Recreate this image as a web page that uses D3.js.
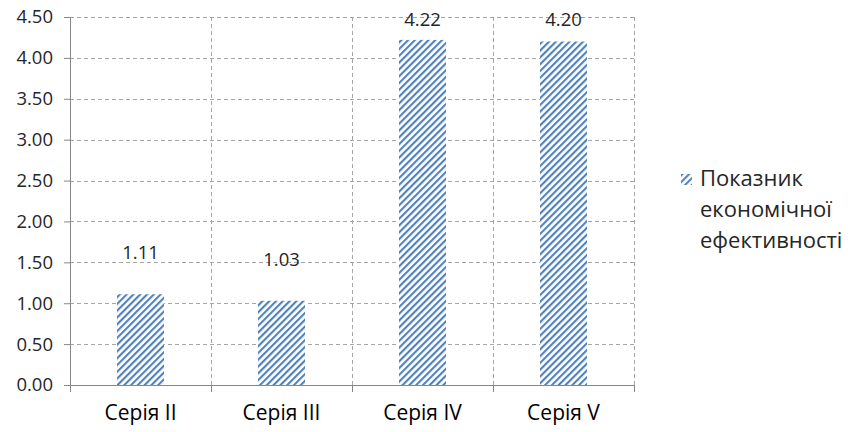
<!DOCTYPE html>
<html>
<head>
<meta charset="utf-8">
<script src="https://cdn.jsdelivr.net/npm/d3@7"></script>
<style>
  body { margin: 0; background: #fff; }
  svg { display: block; font-family: "Open Sans", "DejaVu Sans", sans-serif; }
</style>
</head>
<body>
<div id="chart"></div>
<script>
// дані з діаграми
const categories = ['Серія II', 'Серія III', 'Серія IV', 'Серія V'];
const values = [1.11, 1.03, 4.22, 4.20];
const yTicks = [0, 0.5, 1, 1.5, 2, 2.5, 3, 3.5, 4, 4.5];
const seriesName = ['Показник', 'економічної', 'ефективності'];

const width = 850, height = 432;
const margin = { top: 17, right: 216, bottom: 47, left: 70 };
const innerW = width - margin.left - margin.right;
const innerH = height - margin.top - margin.bottom;

const blue = '#4f81bd';
const grey = '#868686';

const svg = d3.select('#chart').append('svg')
  .attr('width', width)
  .attr('height', height);

// штрихування стовпців
const pat = svg.append('defs').append('pattern')
  .attr('id', 'hatch')
  .attr('patternUnits', 'userSpaceOnUse')
  .attr('width', 4.8)
  .attr('height', 4.8)
  .attr('patternTransform', 'rotate(45)');
pat.append('rect').attr('width', 4.8).attr('height', 4.8).attr('fill', '#fff');
pat.append('rect').attr('x', 0).attr('width', 2.1).attr('height', 4.8).attr('fill', blue);

const g = svg.append('g').attr('transform', `translate(${margin.left},${margin.top})`);

const x = d3.scaleBand().domain(categories).range([0, innerW]).paddingInner(0).paddingOuter(0);
const y = d3.scaleLinear().domain([0, 4.5]).range([innerH, 0]);

// горизонтальна сітка
g.append('g').selectAll('line')
  .data(yTicks.filter(d => d > 0))
  .join('line')
  .attr('x1', 0).attr('x2', innerW)
  .attr('y1', d => Math.round(y(d)) + 0.5).attr('y2', d => Math.round(y(d)) + 0.5)
  .attr('stroke', '#a6a6a6')
  .attr('stroke-dasharray', '4,3');

// вертикальна сітка
g.append('g').selectAll('line')
  .data(categories.slice(1).map(c => x(c)).concat([innerW]))
  .join('line')
  .attr('x1', d => Math.round(d) + 0.5).attr('x2', d => Math.round(d) + 0.5)
  .attr('y1', 0).attr('y2', innerH)
  .attr('stroke', '#a6a6a6')
  .attr('stroke-dasharray', '4,3');

// стовпці
const barW = x.bandwidth() / 3;
g.append('g').selectAll('rect')
  .data(values)
  .join('rect')
  .attr('x', (d, i) => x(categories[i]) + (x.bandwidth() - barW) / 2)
  .attr('y', d => y(d))
  .attr('width', barW)
  .attr('height', d => innerH - y(d))
  .attr('fill', 'url(#hatch)');

// підписи значень (не вище верхньої межі області)
g.append('g').selectAll('text')
  .data(values)
  .join('text')
  .attr('x', (d, i) => x(categories[i]) + x.bandwidth() / 2)
  .attr('y', d => Math.max(y(d) - 35, 9))
  .attr('text-anchor', 'middle')
  .attr('font-size', 18.5)
  .attr('fill', '#262626')
  .text(d => d.toFixed(2));

// вісь Y
const yAxis = g.append('g')
  .call(d3.axisLeft(y).tickValues(yTicks).tickFormat(d3.format('.2f')).tickSize(6).tickSizeOuter(0));
yAxis.select('.domain').attr('stroke', grey);
yAxis.selectAll('.tick line').attr('stroke', grey);
yAxis.selectAll('.tick text')
  .attr('x', -17)
  .attr('font-size', 18.5)
  .attr('fill', '#262626')
  .attr('font-family', '"Open Sans", sans-serif');

// вісь X
const xAxis = g.append('g').attr('transform', `translate(0,${innerH})`)
  .call(d3.axisBottom(x).tickSize(0).tickSizeOuter(0));
xAxis.select('.domain').attr('stroke', grey);
xAxis.selectAll('.tick text')
  .attr('y', 20)
  .attr('font-size', 21)
  .attr('fill', '#000')
  .attr('font-family', '"Open Sans", sans-serif');
xAxis.append('g').selectAll('line')
  .data([0].concat(categories.map(c => x(c) + x.bandwidth())))
  .join('line')
  .attr('x1', d => Math.round(d) + 0.5).attr('x2', d => Math.round(d) + 0.5)
  .attr('y1', 0).attr('y2', 7)
  .attr('stroke', grey);

// легенда
const leg = svg.append('g').attr('transform', 'translate(681,174)');
leg.append('rect')
  .attr('width', 11).attr('height', 11)
  .attr('fill', 'url(#hatch)');
leg.append('text')
  .attr('font-size', 22)
  .attr('fill', '#262626')
  .selectAll('tspan')
  .data(seriesName)
  .join('tspan')
  .attr('x', 19)
  .attr('y', (d, i) => 12 + i * 31)
  .text(d => d);
</script>
</body>
</html>
